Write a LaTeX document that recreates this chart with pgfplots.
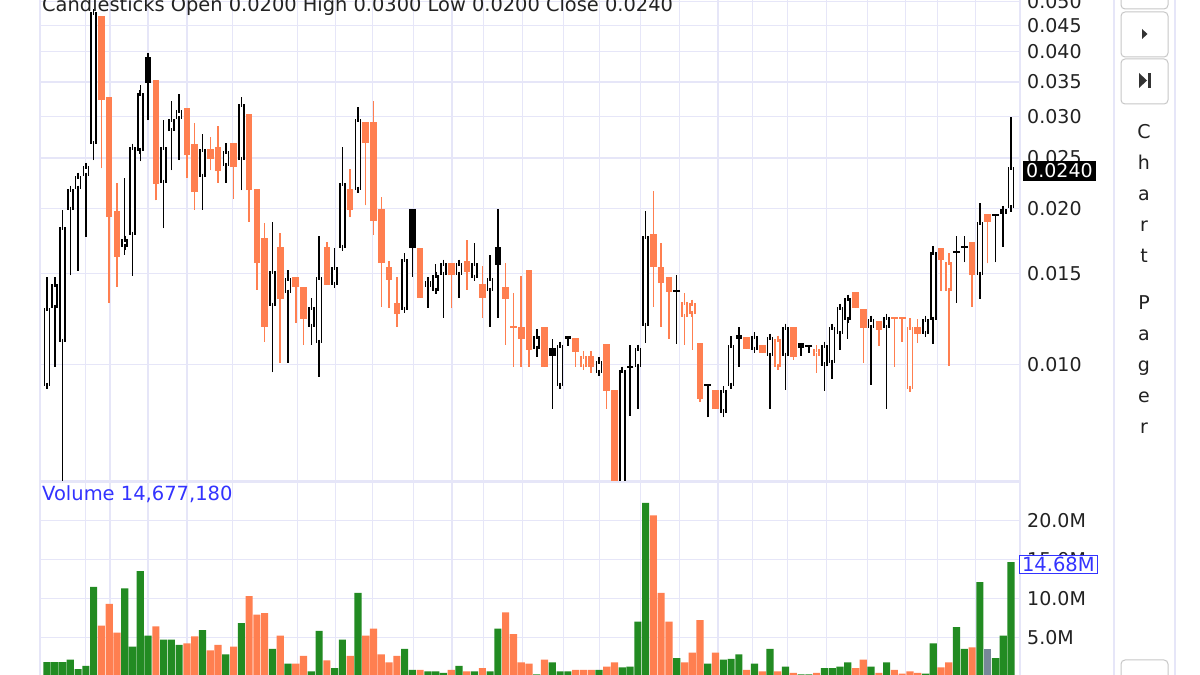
\documentclass[border=0pt]{standalone}
\usepackage{fontspec}
\setmainfont{DejaVu Sans}
\usepackage{pgfplots}
\usepackage{pgfplotstable}
\pgfplotsset{compat=1.18}
\definecolor{gridC}{HTML}{E6E6F8}
\definecolor{orangeC}{HTML}{FF7F50}
\definecolor{greenC}{HTML}{228B22}
\definecolor{grayC}{HTML}{778899}
\definecolor{blueC}{HTML}{3333FF}
\definecolor{textC}{HTML}{222222}

% x o h l c  (hollow black: close > open)
\pgfplotstableread{
x o h l c
1 0.00911 0.01476 0.00911 0.01287
2 0.01287 0.01476 0.00991 0.01431
3 0.01107 0.01986 0.0055 0.01842
4 0.01986 0.02179 0.01489 0.02179
5 0.02179 0.02308 0.01516 0.02308
6 0.02308 0.02412 0.01762 0.02412
7 0.02659 0.04768 0.02477 0.04768
11 0.01686 0.02288 0.01627 0.01746
12 0.01778 0.02624 0.01483 0.02624
13 0.02578 0.03452 0.02466 0.03332
16 0.02238 0.02957 0.01833 0.02624
17 0.02816 0.03216 0.02370 0.02970
18 0.02970 0.03317 0.02477 0.03090
21 0.02298 0.02779 0.01986 0.02601
24 0.02412 0.02671 0.02238 0.02578
26 0.02477 0.03274 0.02169 0.03174
30 0.01298 0.01883 0.00969 0.01516
32 0.01375 0.01523 0.01009 0.01470
35 0.01183 0.01345 0.01093 0.01293
36 0.01102 0.01770 0.00948 0.01476
38 0.01425 0.01678 0.01425 0.01543
39 0.01678 0.02624 0.01663 0.02238
41 0.02169 0.03132 0.02169 0.02970
47 0.01276 0.01641 0.01276 0.01599
50 0.01412 0.01476 0.01287 0.01450
51 0.01387 0.01564 0.01387 0.01489
52 0.01489 0.01570 0.01231 0.01570
54 0.01489 0.01570 0.01345 0.01570
56 0.01470 0.01716 0.01470 0.01570
58 0.01387 0.01627 0.01183 0.01470
64 0.01073 0.01173 0.01036 0.01137
67 0.00911 0.01093 0.00911 0.01093
72 0.00965 0.01036 0.00965 0.01018
75 0.0057 0.00978 0.0055 0.00978
77 0.00991 0.01093 0.00823 0.01078
78 0.01188 0.01977 0.01102 0.01770
88 0.00809 0.00911 0.00794 0.00895
89 0.00911 0.01137 0.00911 0.01093
92 0.01069 0.01157 0.01069 0.01137
94 0.01041 0.01132 0.00823 0.01132
96 0.01041 0.01183 0.00895 0.01183
101 0.00996 0.01093 0.00891 0.01093
102 0.01009 0.01183 0.00940 0.01183
103 0.01147 0.01293 0.01069 0.01293
104 0.01220 0.01345 0.01122 0.01345
107 0.01178 0.01226 0.00915 0.01226
109 0.01178 0.01237 0.00823 0.01237
114 0.01147 0.01226 0.01147 0.01226
115 0.01220 0.01693 0.01097 0.01649
121 0.01489 0.02048 0.01339 0.01883
124 0.01951 0.01994 0.01686 0.01994
125 0.0200 0.0300 0.0200 0.0240
}\BH

% filled black: close < open, close > previous close
\pgfplotstableread{
x o h l c
14 0.03907 0.03977 0.02957 0.03483
48 0.01994 0.01994 0.01476 0.01678
59 0.01686 0.01994 0.01231 0.01557
66 0.01078 0.01122 0.00823 0.01041
68 0.01137 0.01137 0.01088 0.01122
90 0.01142 0.01183 0.00991 0.01122
98 0.01102 0.01102 0.01041 0.01078
}\BF

% hollow orange: close > open, close < previous close
\pgfplotstableread{
x o h l c
70 0.00991 0.01064 0.00991 0.01041
83 0.01237 0.01375 0.01093 0.01322
84 0.01253 0.01316 0.01069 0.01316
95 0.00991 0.01122 0.00991 0.01122
100 0.01041 0.01093 0.00965 0.01073
112 0.00899 0.01231 0.00899 0.01183
117 0.01387 0.01641 0.00996 0.01577
}\OH

% filled orange: close < open
\pgfplotstableread{
x o h l c
8 0.04684 0.04684 0.02391 0.03230
9 0.03274 0.03274 0.01316 0.01925
10 0.01977 0.02238 0.01412 0.01613
15 0.03529 0.03529 0.02075 0.02228
19 0.03118 0.03118 0.02288 0.02532
20 0.02659 0.02918 0.01986 0.02150
22 0.02601 0.02742 0.02370 0.02488
23 0.02624 0.02879 0.02238 0.02359
25 0.02671 0.02671 0.02085 0.02402
27 0.03036 0.03036 0.01883 0.02169
28 0.02179 0.02179 0.01394 0.01570
29 0.01754 0.01875 0.01107 0.01183
31 0.01686 0.01793 0.01009 0.01339
33 0.01476 0.01476 0.01204 0.01412
34 0.01412 0.01412 0.01093 0.01226
37 0.01686 0.01723 0.01425 0.01425
40 0.02179 0.02380 0.01925 0.01986
42 0.02931 0.02931 0.02030 0.02671
43 0.02931 0.03216 0.01778 0.01891
44 0.01994 0.02103 0.01293 0.01570
45 0.01543 0.01584 0.01287 0.01457
46 0.01316 0.01476 0.01183 0.01253
49 0.01678 0.01678 0.01345 0.01345
53 0.01570 0.01570 0.01287 0.01489
55 0.01584 0.01739 0.01394 0.01509
57 0.01431 0.01550 0.01231 0.01345
60 0.01412 0.01570 0.01093 0.01339
62 0.01183 0.01483 0.00991 0.01122
63 0.01523 0.01523 0.00991 0.01069
65 0.01183 0.01183 0.00991 0.00991
69 0.01127 0.01127 0.00991 0.01059
71 0.01041 0.01064 0.00965 0.00991
73 0.01097 0.01097 0.00823 0.00891
74 0.00895 0.00895 0.0055 0.0057
79 0.01785 0.02160 0.01293 0.01543
80 0.01543 0.01716 0.01183 0.01437
81 0.01476 0.01476 0.01122 0.01381
85 0.01102 0.01102 0.00849 0.00860
87 0.00895 0.00895 0.00823 0.00823
91 0.01132 0.01132 0.01073 0.01073
93 0.01093 0.01093 0.01055 0.01055
97 0.01183 0.01183 0.01022 0.01036
105 0.01381 0.01381 0.01287 0.01287
106 0.01281 0.01281 0.01009 0.01178
108 0.01215 0.01215 0.01088 0.01168
110 0.01237 0.01237 0.00991 0.01226
113 0.01183 0.01226 0.01102 0.01147
116 0.01678 0.01678 0.01387 0.01591
120 0.01723 0.01723 0.01293 0.01489
122 0.01951 0.01951 0.01570 0.01883
}\OF

% dojis (open = close)
\pgfplotstableread{
x o h l
76 0.00991 0.01093 0.00798
82 0.01387 0.01489 0.01097
86 0.00915 0.00915 0.00794
99 0.01088 0.01088 0.01055
118 0.01649 0.01770 0.01316
119 0.01686 0.01770 0.01577
123 0.01942 0.01942 0.01577
}\DB
\pgfplotstableread{
x o h l
61 0.01183 0.01375 0.00991
111 0.01229 0.01231 0.01107
}\DO

\pgfplotsset{
  nomark/.style={only marks, mark=*, mark size=0pt, mark options={draw=none, fill=none}, forget plot},
  wick/.style={nomark,
    error bars/.cd, y dir=plus, y explicit, error mark=none,
    error bar style={line width=1.5pt, draw=#1}},
  body/.style={nomark,
    error bars/.cd, y dir=plus, y explicit, error mark=none,
    error bar style={line width=6.6pt, draw=#1}},
  inner/.style={nomark,
    error bars/.cd, y dir=both, y explicit, error mark=-,
    error mark options={line width=1.6pt, draw=#1, color=#1, mark size=3.3pt},
    error bar style={line width=3.4pt, draw=white}},
  panel/.style={scale only axis, width=980pt, xmin=0.1, xmax=126.16,
    axis line style={draw=gridC, line width=1.5pt},
    major tick length=0pt,
    xtick={6,9.1,14,19,24.9,33.2,38.1,42.9,48.1,53.1,57.1,62.2,67.4,72.1,77.3,82.4,87.3,91.8,96.3,101.3,106.5,111.4,115.5,120.4},
    xticklabels={},
    xmajorgrids, ymajorgrids,
    grid style={draw=gridC, line width=1.2pt},
    yticklabel pos=right,
    yticklabel style={font=\fontsize{19}{21}\selectfont, text=textC, inner sep=0pt, anchor=west},
    yticklabel shift=7pt,
  },
}

\begin{document}
\begin{tikzpicture}
\useasboundingbox (0,0) rectangle (1200pt,675pt);
\clip (0,0) rectangle (1200pt,675pt);
\fill[white] (0,0) rectangle (1200pt,675pt);

% ---------------- price panel ----------------
\begin{axis}[panel, at={(40pt,194pt)}, anchor=south west, height=491pt,
  ymode=log, ymin=0.00598, ymax=0.0526,
  ytick={0.010,0.015,0.020,0.025,0.030,0.035,0.040,0.045,0.050},
  yticklabels={0.010,0.015,0.020,0.025,0.030,0.035,0.040,0.045,0.050},
  ]
  % wicks
  \addplot[wick=black] table[x=x, y=l, y error plus expr=\thisrow{h}-\thisrow{l}] {\BH};
  \addplot[wick=black] table[x=x, y=l, y error plus expr=\thisrow{h}-\thisrow{l}] {\BF};
  \addplot[wick=black] table[x=x, y=l, y error plus expr=\thisrow{h}-\thisrow{l}] {\DB};
  \addplot[wick=orangeC] table[x=x, y=l, y error plus expr=\thisrow{h}-\thisrow{l}] {\OH};
  \addplot[wick=orangeC] table[x=x, y=l, y error plus expr=\thisrow{h}-\thisrow{l}] {\OF};
  \addplot[wick=orangeC] table[x=x, y=l, y error plus expr=\thisrow{h}-\thisrow{l}] {\DO};
  % filled bodies
  \addplot[body=black] table[x=x, y=c, y error plus expr=\thisrow{o}-\thisrow{c}] {\BF};
  \addplot[body=orangeC] table[x=x, y=c, y error plus expr=\thisrow{o}-\thisrow{c}] {\OF};
  % hollow bodies
  \addplot[body=black] table[x=x, y=o, y error plus expr=\thisrow{c}-\thisrow{o}] {\BH};
  \addplot[inner=black] table[x=x, y=o, y error plus expr=\thisrow{c}-\thisrow{o}, y error minus expr=0] {\BH};
  \addplot[body=orangeC] table[x=x, y=o, y error plus expr=\thisrow{c}-\thisrow{o}] {\OH};
  \addplot[inner=orangeC] table[x=x, y=o, y error plus expr=\thisrow{c}-\thisrow{o}, y error minus expr=0] {\OH};
  % dojis
  \addplot[only marks, mark=-, mark size=3.4pt, mark options={line width=1.7pt, draw=black}] table[x=x, y=o] {\DB};
  \addplot[only marks, mark=-, mark size=3.4pt, mark options={line width=1.7pt, draw=orangeC}] table[x=x, y=o] {\DO};
\end{axis}

% ---------------- volume panel ----------------
\begin{axis}[panel, at={(40pt,-1pt)}, anchor=south west, height=194pt,
  ymin=0, ymax=25,
  ytick={5,10,15,20}, yticklabels={5.0M,10.0M,15.0M,20.0M},
  ybar, bar width=0.92, bar shift=0pt,
  ]
  \addplot[fill=greenC, draw=none] coordinates {(1,1.8)(2,1.8)(3,1.8)(4,2.1)(5,0.9)(6,1.3)(7,11.5)(11,11.3)(12,3.8)(13,13.5)(14,5.2)(16,4.7)(17,4.7)(18,4.0)(21,5.9)(24,2.8)(26,6.8)(30,3.5)(32,1.6)(35,0.6)(36,5.8)(38,1.0)(39,4.7)(41,10.7)(47,3.5)(48,0.8)(50,0.6)(51,0.6)(52,0.4)(54,1.3)(56,0.6)(58,0.6)(59,6.1)(64,0.2)(66,1.75)(67,0.6)(68,0.6)(72,0.8)(75,1.1)(76,1.2)(77,7.0)(78,22.3)(82,2.3)(86,1.6)(88,2.1)(89,2.2)(90,2.8)(92,1.6)(94,3.5)(96,1.2)(98,0.2)(99,0.2)(101,1.0)(102,1.0)(103,1.2)(104,1.75)(107,1.2)(109,1.75)(114,0.3)(115,4.2)(118,6.3)(119,3.5)(121,12.1)(123,2.3)(124,5.2)(125,14.68)};
  \addplot[fill=orangeC, draw=none] coordinates {(8,6.5)(9,9.3)(10,5.6)(15,6.4)(19,4.2)(20,5.1)(22,3.3)(23,4.0)(25,3.8)(27,10.3)(28,7.9)(29,8.1)(31,5.2)(33,1.6)(34,2.6)(37,2.0)(40,2.6)(42,5.2)(43,6.1)(44,2.8)(45,1.75)(46,2.6)(49,0.8)(53,0.8)(55,0.6)(57,1.0)(60,8.2)(61,5.4)(62,1.75)(63,1.6)(65,2.1)(69,0.8)(70,0.8)(71,0.8)(73,1.2)(74,1.75)(79,20.7)(80,10.7)(81,7.0)(83,1.75)(84,3.0)(85,7.2)(87,3.0)(91,0.8)(93,0.6)(95,0.6)(97,0.4)(100,0.4)(105,1.0)(106,2.1)(108,0.4)(110,0.8)(111,0.3)(112,0.6)(113,0.4)(116,1.1)(117,1.75)(120,3.7)};
  \addplot[fill=grayC, draw=none] coordinates {(122,3.5)};
\end{axis}

% ---------------- texts ----------------
\node[anchor=base west, inner sep=0pt, text=textC, font=\fontsize{19.4}{21}\selectfont] at (42pt,663pt) {Candlesticks Open 0.0200 High 0.0300 Low 0.0200 Close 0.0240};
\node[anchor=base west, inner sep=0pt, text=blueC, font=\fontsize{19.5}{21}\selectfont] at (42pt,174pt) {Volume 14,677,180};
\node[anchor=west, fill=black, text=white, inner xsep=3pt, inner ysep=2.5pt, font=\fontsize{19}{21}\selectfont] at (1023pt,504pt) {0.0240};
\node[anchor=west, fill=white, draw=blueC, line width=1pt, text=blueC, inner xsep=2.5pt, inner ysep=2pt, font=\fontsize{19.5}{21}\selectfont] at (1019pt,110.5pt) {14.68M};

% ---------------- pager column ----------------
\draw[gridC, line width=1.5pt] (1114pt,0) -- (1114pt,675pt);
\draw[gridC, line width=1.5pt] (1175pt,0) -- (1175pt,675pt);
\foreach \yb/\yt in {666/705, 618/663, 571/616, -25/15} {
  \draw[black!22, line width=1pt, fill=white, rounded corners=4pt] (1121pt,\yb pt) rectangle (1168pt,\yt pt);
}
\fill[black!80] (1142pt,646pt) -- (1147.5pt,641pt) -- (1142pt,636pt) -- cycle;
\fill[black!80] (1139pt,602pt) -- (1147pt,594.5pt) -- (1139pt,587pt) -- cycle;
\fill[black!80] (1147.5pt,587pt) rectangle (1150.5pt,602pt);
\foreach \ch/\yy in {C/536, h/505, a/474, r/443, t/412, P/365, a/334, g/303, e/272, r/241} {
  \node[anchor=base, inner sep=0pt, text=textC, font=\fontsize{19}{20}\selectfont] at (1144pt,\yy pt) {\ch};
}
\end{tikzpicture}
\end{document}
